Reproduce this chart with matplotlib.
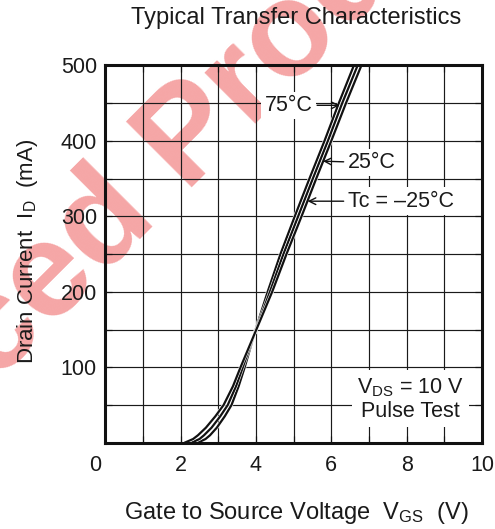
import matplotlib
matplotlib.use("Agg")
import matplotlib.pyplot as plt
import matplotlib.patheffects as pe
import matplotlib.transforms as mtransforms

plt.rcParams['font.family'] = ['Liberation Sans', 'DejaVu Sans']
plt.rcParams['mathtext.fontset'] = 'custom'
plt.rcParams['mathtext.rm'] = 'Liberation Sans'
plt.rcParams['mathtext.default'] = 'regular'

# ---- data ----
drain_current_ma = [0, 5, 10, 20, 35, 50, 75, 100, 150, 200, 250, 300, 350, 400, 450, 500]
vgs_75c = [2.45, 2.66, 2.78, 2.96, 3.17, 3.35, 3.54, 3.70, 3.99, 4.31, 4.65, 5.03, 5.42, 5.82, 6.20, 6.60]
vgs_25c = [2.28, 2.50, 2.62, 2.82, 3.05, 3.25, 3.47, 3.65, 4.00, 4.37, 4.73, 5.12, 5.51, 5.91, 6.29, 6.70]
vgs_m25c = [2.10, 2.33, 2.46, 2.67, 2.92, 3.14, 3.39, 3.59, 4.01, 4.43, 4.81, 5.21, 5.60, 6.00, 6.39, 6.80]
curve_labels = ["75°C", "25°C", "Tc = –25°C"]
x_ticks = [0, 2, 4, 6, 8, 10]
y_ticks = [100, 200, 300, 400, 500]

fig = plt.figure(figsize=(4.95, 5.29), dpi=100)

# watermark behind everything
fig.text(116 / 495, 1 - 214 / 529, "Replaced Product", fontsize=97, fontweight='bold',
         color='#f5a6a6', rotation=45, rotation_mode='anchor', ha='center', va='center',
         zorder=-5)

ax = fig.add_axes([105.3 / 495, 1 - 442.8 / 529, 376.7 / 495, 377.5 / 529])
ax.patch.set_alpha(0)

ax.set_xlim(0, 10)
ax.set_ylim(0, 500)

# grid
for v in range(1, 10):
    ax.axvline(v, color='#1a1a1a', lw=0.85, zorder=1)
for c in range(50, 500, 50):
    ax.axhline(c, color='#1a1a1a', lw=0.85, zorder=1)

stroke = [pe.Stroke(linewidth=2.4, foreground='white'), pe.Normal()]
for vals in (vgs_75c, vgs_25c, vgs_m25c):
    ax.plot(vals, drain_current_ma, color='#111111', lw=1.6, zorder=4,
            solid_capstyle='butt', solid_joinstyle='round', path_effects=stroke, clip_on=True)

for s in ax.spines.values():
    s.set_linewidth(2.2)
    s.set_color('#111111')
    s.set_zorder(6)

ax.set_xticks(x_ticks)
ax.set_xticklabels([str(t) for t in x_ticks])
ax.set_yticks(y_ticks)
ax.set_yticklabels([str(t) for t in y_ticks])
ax.set_xticks(range(0, 11), minor=True)
ax.set_yticks(range(0, 501, 50), minor=True)
ax.tick_params(axis='both', which='both', direction='in', length=5, width=0.85,
               top=True, right=True, colors='#111111', labelcolor='#1a1a1a')
ax.tick_params(axis='x', which='major', labelsize=15.5, pad=9)
ax.tick_params(axis='y', which='major', labelsize=15.5, pad=6)

# shift the "0" label to the left like the reference
lbl0 = ax.get_xticklabels()[0]
lbl0.set_transform(lbl0.get_transform() + mtransforms.ScaledTranslation(-10 / 100, 0, fig.dpi_scale_trans))

box = dict(boxstyle='square,pad=0.15', fc='white', ec='none')
arrow = dict(arrowstyle='->', lw=1.0, color='#111111', shrinkA=1, shrinkB=0, mutation_scale=12)

ax.annotate(curve_labels[0], xy=(6.22, 447), xytext=(5.5, 447), ha='right', va='center',
            fontsize=15.5, color='#1a1a1a', bbox=box, arrowprops=arrow, zorder=7)
ax.annotate(curve_labels[1], xy=(5.78, 373), xytext=(6.45, 371), ha='left', va='center',
            fontsize=15.5, color='#1a1a1a', bbox=box, arrowprops=arrow, zorder=7)
ax.annotate(curve_labels[2], xy=(5.37, 320), xytext=(6.45, 320), ha='left', va='center',
            fontsize=15.5, color='#1a1a1a', bbox=box, arrowprops=arrow, zorder=7)

ax.text(8.1, 58, "$V_{DS}$ = 10 V\nPulse Test", ha='center', va='center',
        multialignment='center', fontsize=15.5, color='#1a1a1a', linespacing=1.1,
        bbox=dict(boxstyle='square,pad=0.25', fc='white', ec='none'), zorder=7)

fig.text(296.5 / 495, 1 - 18 / 529, "Typical Transfer Characteristics", ha='center', va='center',
         fontsize=17, color='#1a1a1a')
fig.text(296 / 495, 1 - 513 / 529, "Gate to Source Voltage  $V_{GS}$  (V)", ha='center', va='center',
         fontsize=17, color='#1a1a1a')
fig.text(28 / 495, 1 - 251 / 529, "Drain Current  $I_D$  (mA)", ha='center', va='center',
         rotation=90, fontsize=16, color='#1a1a1a')

fig.savefig("out.png", dpi=100)
